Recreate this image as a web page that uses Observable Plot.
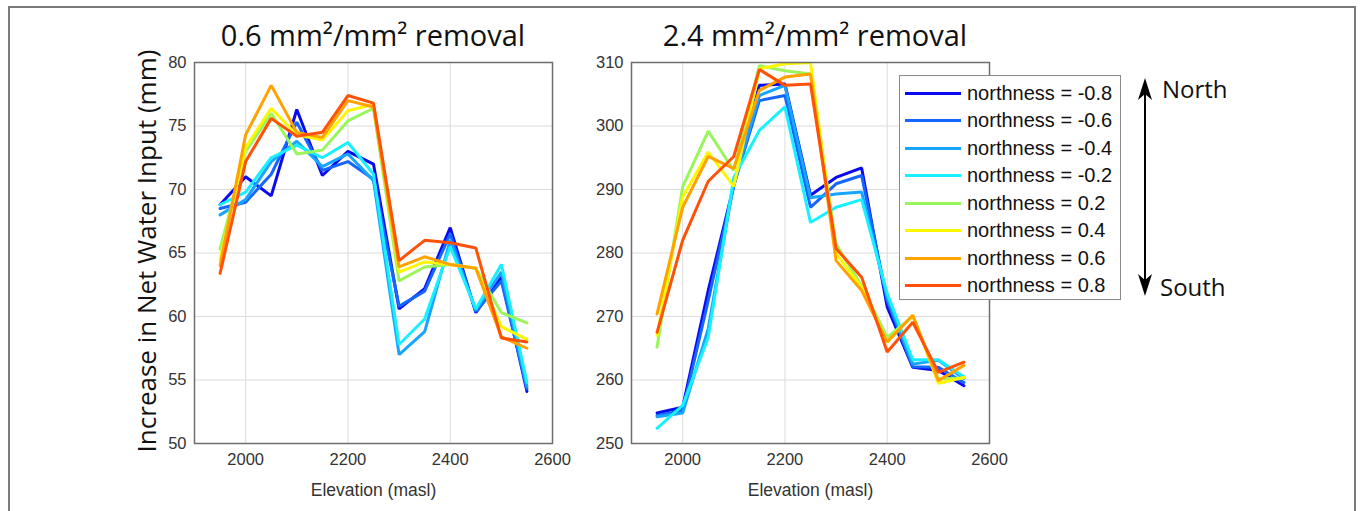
<!DOCTYPE html>
<html>
<head>
<meta charset="utf-8">
<script src="https://cdn.jsdelivr.net/npm/d3@7"></script>
<script src="https://cdn.jsdelivr.net/npm/@observablehq/plot@0.6"></script>
<style>
  html, body { margin: 0; padding: 0; background: #fff; }
  #wrap { position: relative; width: 1360px; height: 511px; overflow: hidden; background: #fff; }
  #border { position: absolute; left: 8px; top: 6px; width: 1348px; height: 540px; border: 2px solid #7a7a7a; box-sizing: border-box; }
  .title { position: absolute; font-family: "Open Sans", sans-serif; font-size: 29px; color: #111; white-space: nowrap; transform: translateX(-50%); }
  .ylab { position: absolute; font-family: "Open Sans", sans-serif; font-size: 26px; color: #111; white-space: nowrap; transform: translate(-50%, -50%) rotate(-90deg); }
  .panel { position: absolute; }
  #legend { position: absolute; left: 899px; top: 75px; width: 222px; height: 225px; border: 1.5px solid #8a8a8a; background: #fff; box-sizing: border-box; font-family: "Liberation Sans", Arial, sans-serif; font-size: 20px; color: #111; }
  .li { position: absolute; left: 5px; height: 24px; display: flex; align-items: center; }
  .sw { width: 56px; height: 3px; margin-right: 6px; }
  .ns { position: absolute; font-family: "Open Sans", sans-serif; font-size: 24px; color: #111; }
</style>
</head>
<body>
<div id="wrap">
  <div id="border"></div>
  <div class="title" style="left:373px; top:15px;">0.6 mm²/mm² removal</div>
  <div class="title" style="left:815px; top:15px;">2.4 mm²/mm² removal</div>
  <div class="ylab" style="left:146px; top:251px;">Increase in Net Water Input (mm)</div>
  <div id="pA" class="panel" style="left:130px; top:50px;"></div>
  <div id="pB" class="panel" style="left:567px; top:50px;"></div>
  <div id="legend"></div>
  <svg style="position:absolute; left:1130px; top:70px;" width="30" height="240">
    <line x1="15" y1="12" x2="15" y2="222" stroke="#000" stroke-width="2"/>
    <path d="M15,8 L8,30 L15,24 L22,30 Z" fill="#000"/>
    <path d="M15,226 L8,204 L15,210 L22,204 Z" fill="#000"/>
  </svg>
  <div class="ns" style="left:1162px; top:72px;">North</div>
  <div class="ns" style="left:1160px; top:270px;">South</div>
</div>
<script>
// ---- data ----
const elevation = [1950, 2000, 2050, 2100, 2150, 2200, 2250, 2300, 2350, 2400, 2450, 2500, 2550];
const northness = ["-0.8", "-0.6", "-0.4", "-0.2", "0.2", "0.4", "0.6", "0.8"];
const seriesColors = ["#0a0af0", "#1466ff", "#17a5ff", "#19f0ff", "#9af55a", "#fbf700", "#ffa200", "#ff5208"];

// 0.6 mm²/mm² removal
const a_m08 = [68.8, 71.0, 69.5, 76.3, 71.1, 73.0, 72.0, 60.6, 62.2, 67.0, 60.3, 63.1, 54.1];
const a_m06 = [68.5, 69.0, 71.2, 75.3, 71.5, 72.2, 70.8, 60.8, 62.0, 66.5, 60.4, 62.8, 54.3];
const a_m04 = [68.0, 69.2, 72.2, 73.8, 71.8, 72.8, 70.7, 57.0, 58.8, 66.0, 60.5, 63.5, 54.5];
const a_m02 = [68.8, 69.8, 72.5, 73.5, 72.5, 73.7, 71.2, 57.8, 59.8, 65.5, 60.6, 64.1, 54.8];
const a_p02 = [65.3, 73.0, 76.0, 72.8, 73.1, 75.4, 76.4, 62.8, 63.9, 64.1, 63.8, 60.3, 59.5];
const a_p04 = [64.5, 73.3, 76.4, 74.3, 73.9, 76.2, 76.7, 63.5, 64.3, 64.1, 63.8, 59.2, 58.2];
const a_p06 = [64.0, 74.3, 78.2, 74.5, 74.1, 77.0, 76.5, 63.9, 64.7, 64.1, 63.8, 58.4, 57.5];
const a_p08 = [63.4, 72.2, 75.6, 74.2, 74.5, 77.4, 76.8, 64.4, 66.0, 65.8, 65.4, 58.3, 58.0];

// 2.4 mm²/mm² removal
const b_m08 = [254.8, 255.7, 274.1, 290.6, 306.4, 306.6, 289.1, 291.9, 293.4, 271.5, 262.0, 261.5, 259.1];
const b_m06 = [254.4, 255.2, 272.5, 290.6, 304.0, 304.8, 287.2, 290.9, 292.2, 272.5, 262.1, 262.0, 259.6];
const b_m04 = [254.2, 254.8, 268.1, 291.0, 304.8, 306.4, 288.7, 289.3, 289.6, 273.0, 262.5, 263.1, 260.2];
const b_m02 = [252.4, 256.0, 266.7, 291.9, 299.3, 303.0, 284.8, 287.2, 288.4, 273.6, 263.2, 263.2, 260.5];
const b_p02 = [265.2, 290.4, 299.2, 293.0, 309.5, 308.7, 308.2, 281.4, 274.8, 266.7, 270.0, 260.2, 260.3];
const b_p04 = [267.0, 288.8, 295.9, 290.5, 309.0, 309.8, 310.0, 279.9, 274.6, 266.0, 270.2, 259.5, 260.4];
const b_p06 = [270.4, 287.2, 295.2, 293.3, 305.6, 307.7, 308.2, 278.8, 274.1, 266.0, 270.2, 259.9, 262.3];
const b_p08 = [267.5, 282.0, 291.3, 295.2, 308.9, 306.4, 306.6, 280.7, 276.2, 264.4, 269.1, 261.2, 262.8];

const xTicks = [2000, 2200, 2400, 2600];
const yTicksA = [50, 55, 60, 65, 70, 75, 80];
const yTicksB = [250, 260, 270, 280, 290, 300, 310];

// ---- build tables ----
function tidy(seriesList) {
  const rows = [];
  seriesList.forEach((vals, i) => {
    vals.forEach((v, j) => rows.push({elev: elevation[j], val: v, n: northness[i]}));
  });
  return rows;
}
const dataA = tidy([a_m08, a_m06, a_m04, a_m02, a_p02, a_p04, a_p06, a_p08]);
const dataB = tidy([b_m08, b_m06, b_m04, b_m02, b_p02, b_p04, b_p06, b_p08]);

function panel(data, yDomain, yTicks, ml) {
  return Plot.plot({
    width: ml + 358 + 30,
    height: 12 + 381 + 62,
    marginLeft: ml,
    marginRight: 30,
    marginTop: 12,
    marginBottom: 62,
    style: {fontFamily: "'Liberation Sans', Arial, sans-serif", fontSize: "16px", color: "#333", background: "transparent", overflow: "visible"},
    x: {domain: [1900, 2600]},
    y: {domain: yDomain},
    color: {type: "ordinal", domain: northness, range: seriesColors},
    marks: [
      Plot.gridX(xTicks, {stroke: "#dcdcdc", strokeOpacity: 1, strokeWidth: 1}),
      Plot.gridY(yTicks, {stroke: "#dcdcdc", strokeOpacity: 1, strokeWidth: 1}),
      Plot.axisX(xTicks, {tickFormat: "d", tickSize: 0, tickPadding: 10, label: null, fontSize: 16.5}),
      Plot.axisX({label: "Elevation (masl)", labelAnchor: "center", labelArrow: "none", labelOffset: 52, ticks: [], tickSize: 0, fontSize: 17.5}),
      Plot.axisY(yTicks, {tickFormat: "d", tickSize: 0, tickPadding: 8, label: null, fontSize: 16.5}),
      Plot.line(data, {x: "elev", y: "val", z: "n", stroke: "n", strokeWidth: 3, clip: true, strokeLinejoin: "miter"}),
      Plot.frame({stroke: "#6e6e6e", strokeWidth: 1.5})
    ]
  });
}

document.getElementById("pA").appendChild(panel(dataA, [50, 80], yTicksA, 64));
document.getElementById("pB").appendChild(panel(dataB, [250, 310], yTicksB, 64));

// legend
const leg = document.getElementById("legend");
northness.forEach((n, i) => {
  const d = document.createElement("div");
  d.className = "li";
  d.style.top = (5 + i * 27.5) + "px";
  d.innerHTML = `<span class="sw" style="background:${seriesColors[i]}"></span><span>northness = ${n}</span>`;
  leg.appendChild(d);
});
</script>
</body>
</html>
